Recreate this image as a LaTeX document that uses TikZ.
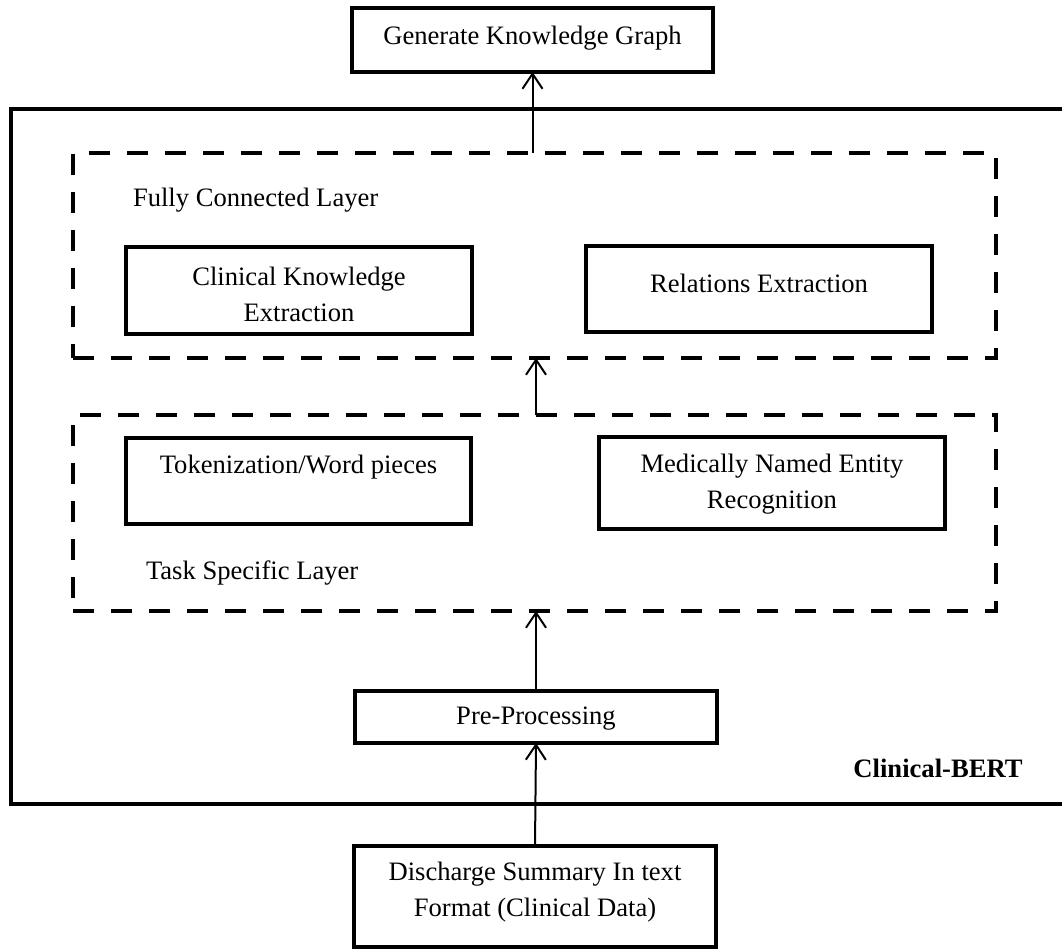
\documentclass[tikz,border=0pt]{standalone}
\usepackage{fontspec}
\setmainfont{Liberation Serif}
\usetikzlibrary{arrows.meta}
\begin{document}
\begin{tikzpicture}[x=1pt,y=-1pt,
  every node/.style={inner sep=0pt, outer sep=0pt},
  boxnode/.style={draw=black, line width=4.5pt, fill=white, rectangle},
  dashnode/.style={draw=black, line width=4pt, rectangle, dash pattern=on 21pt off 17pt},
  outernode/.style={draw=black, line width=4.5pt, rectangle},
  txt/.style={font=\fontsize{26.6}{36}\selectfont, align=center, text=black},
  arr/.style={line width=2pt, -{Straight Barb[length=15pt,width=20pt,line width=2pt]}}
]
\fill[white] (0,0) rectangle (1062,949);
\useasboundingbox (0,0) rectangle (1062,949);

% outer Clinical-BERT box
\node[outernode, minimum width=1064pt, minimum height=695pt] (bert) at (543,456.5) {};
\node[txt, font=\fontsize{26.6}{36}\selectfont\bfseries] (bertl) at (938,768) {Clinical-BERT};

% top box
\node[boxnode, minimum width=361pt, minimum height=64pt] (gen) at (532.5,40) {};
\node[txt] (genl) at (532.5,38) {Generate Knowledge Graph};

% fully connected layer
\node[dashnode, minimum width=923pt, minimum height=205pt] (fc) at (534.5,255.5) {};
\node[txt, anchor=west] (fcl) at (133,200) {Fully Connected Layer};
\node[boxnode, minimum width=346pt, minimum height=87pt] (cke) at (299,290.5) {};
\node[txt] (ckel) at (299,294) {Clinical Knowledge\\Extraction};
\node[boxnode, minimum width=346pt, minimum height=86pt] (rel) at (759,289) {};
\node[txt] (rell) at (759,283) {Relations Extraction};

% task specific layer
\node[dashnode, minimum width=923pt, minimum height=196pt] (ts) at (534.5,513) {};
\node[boxnode, minimum width=345pt, minimum height=86pt] (tok) at (298.5,481) {};
\node[txt] (tokl) at (298.5,467) {Tokenization/Word pieces};
\node[boxnode, minimum width=346pt, minimum height=92pt] (mner) at (772,483) {};
\node[txt] (mnerl) at (772,484) {Medically Named Entity\\Recognition};
\node[txt, anchor=west] (tsl) at (146,573) {Task Specific Layer};

% pre-processing
\node[boxnode, minimum width=362pt, minimum height=52pt] (pre) at (536,717) {};
\node[txt] (prel) at (536,719) {Pre-Processing};

% discharge summary
\node[boxnode, minimum width=362pt, minimum height=101pt] (dis) at (535,896.5) {};
\node[txt] (disl) at (535,892.5) {Discharge Summary In text\\Format (Clinical Data)};

% arrows
\draw[arr] (fc.north -| gen.south) -- (gen.south);
\draw[arr] (ts.north -| pre.north) -- (fc.south -| pre.north);
\draw[arr] (pre.north) -- (ts.south -| pre.north);
\draw[arr] (dis.north) -- (pre.south);
\end{tikzpicture}
\end{document}
